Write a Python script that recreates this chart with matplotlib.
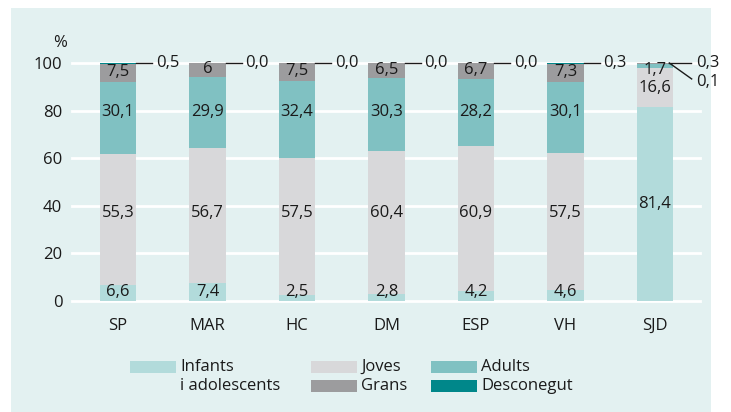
import matplotlib as mpl
mpl.use("Agg")
import matplotlib.pyplot as plt
from matplotlib.patches import Rectangle
import numpy as np

plt.rcParams.update({
    "font.family": ["Open Sans", "DejaVu Sans"],
    "font.size": 12,
})

# ---- data ----
zones = ["SP", "MAR", "HC", "DM", "ESP", "VH", "SJD"]
infants = [6.6, 7.4, 2.5, 2.8, 4.2, 4.6, 81.4]
joves = [55.3, 56.7, 57.5, 60.4, 60.9, 57.5, 16.6]
adults = [30.1, 29.9, 32.4, 30.3, 28.2, 30.1, 1.7]
grans = [7.5, 6, 7.5, 6.5, 6.7, 7.3, 0.3]
desconegut = [0.5, 0.0, 0.0, 0.0, 0.0, 0.3, 0.1]

series_names = ["Infants", "Joves", "Adults", "Grans", "Desconegut"]
colors = ["#b2dbdb", "#d8d8da", "#80c1c2", "#9c9c9e", "#00878a"]
bg = "#e3f1f1"
txt = "#1a1a1a"


def fmt(v):
    return str(v).replace(".", ",")


W, H = 731, 412
fig = plt.figure(figsize=(W / 100, H / 100), dpi=100)
fig.patch.set_facecolor("white")
fig.patches.append(Rectangle((11 / W, 0), 700 / W, 1 - 8 / H, transform=fig.transFigure,
                             facecolor=bg, edgecolor="none", zorder=-10))

ax = fig.add_axes([72 / W, 1 - 301 / H, 628 / W, 238 / H])
ax.set_facecolor("none")
for s in ax.spines.values():
    s.set_visible(False)

x = np.arange(len(zones))
bw = 0.41
ax.set_xlim(-0.514, 6.503)
ax.set_ylim(0, 100)

for yv in range(0, 101, 20):
    ax.axhline(yv, color="white", lw=2, zorder=0, clip_on=False)

data = [infants, joves, adults, grans, desconegut]
bottom = np.zeros(len(zones))
for vals, c in zip(data, colors):
    ax.bar(x, vals, bw, bottom=bottom, color=c, zorder=2, clip_on=False)
    bottom += np.array(vals, dtype=float)

# labels inside bars
for i in range(len(zones)):
    last = i == len(zones) - 1
    if not last:
        ax.text(x[i], max(infants[i] / 2, 3.8), fmt(infants[i]), ha="center", va="center", color=txt)
        ax.text(x[i], 37, fmt(joves[i]), ha="center", va="center", color=txt)
        ax.text(x[i], 79.5, fmt(adults[i]), ha="center", va="center", color=txt)
        gb = infants[i] + joves[i] + adults[i]
        ax.text(x[i], gb + grans[i] / 2 + 0.3, fmt(grans[i]), ha="center", va="center", color=txt)
        # external Desconegut label
        x0 = x[i] + bw / 2
        ax.plot([x0, x0 + 0.18], [100, 100], color=txt, lw=1, clip_on=False, zorder=3)
        ax.text(x0 + 0.22, 100, fmt(desconegut[i]), ha="left", va="center", color=txt)
    else:
        ax.text(x[i], infants[i] / 2, fmt(infants[i]), ha="center", va="center", color=txt)
        ax.text(x[i], infants[i] + joves[i] / 2, fmt(joves[i]), ha="center", va="center", color=txt)
        ax.text(x[i], 97.2, fmt(adults[i]), ha="center", va="center", color=txt)
        x0 = x[i] + 0.16
        ax.plot([x0, x0 + 0.245], [100, 100], color=txt, lw=1, clip_on=False, zorder=3)
        ax.text(x0 + 0.3, 100, fmt(grans[i]), ha="left", va="center", color=txt)
        ax.plot([x0, x0 + 0.25], [100, 93.3], color=txt, lw=1, clip_on=False, zorder=3)
        ax.text(x0 + 0.3, 92.2, fmt(desconegut[i]), ha="left", va="center", color=txt)

ax.set_xticks(x)
ax.set_xticklabels(zones, color=txt)
ax.set_yticks(range(0, 101, 20))
ax.tick_params(axis="both", length=0, colors=txt)
ax.tick_params(axis="y", pad=7)
ax.tick_params(axis="x", pad=12)
ax.text(-0.57, 108.5, "%", ha="right", va="center", color=txt)

# legend drawn by hand
def fx(px):
    return px / W


def fy(py):
    return 1 - py / H


leg = [(130, 361, 0), (311, 361, 1), (431, 361, 2), (311, 380, 3), (431, 380, 4)]
for px, py, k in leg:
    fig.patches.append(Rectangle((fx(px), fy(py + 12)), 46 / W, 12 / H, transform=fig.transFigure,
                                 facecolor=colors[k], edgecolor="none"))
    fig.text(fx(px + 50), fy(py + 6), series_names[k], ha="left", va="center", color=txt)
fig.text(fx(180), fy(386), "i adolescents", ha="left", va="center", color=txt)

fig.savefig("out.png", dpi=100)
